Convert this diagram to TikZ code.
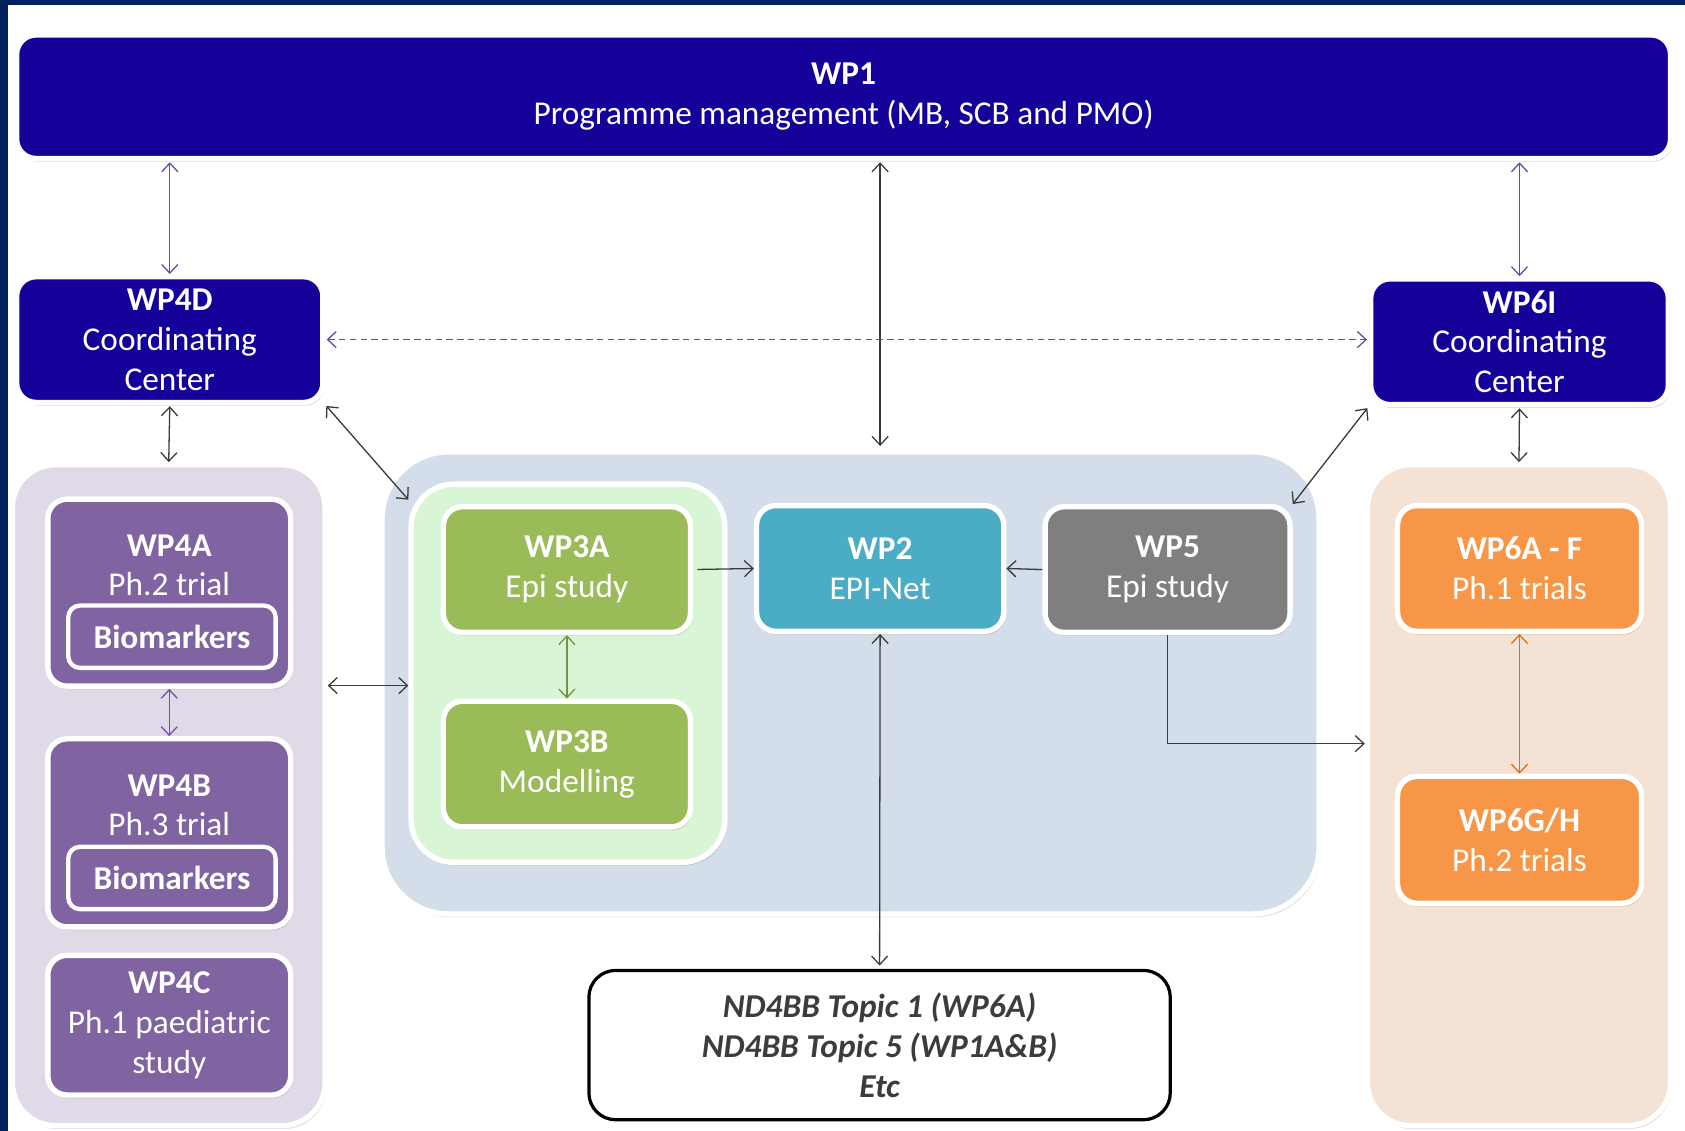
\documentclass[tikz,border=0pt]{standalone}
\usepackage{fontspec}
\setmainfont{Carlito}
\usepackage{tikz}
\usetikzlibrary{arrows.meta,shadows}

\definecolor{navy}{HTML}{002060}
\definecolor{wpblue}{HTML}{15009A}
\definecolor{wppurple}{HTML}{8064A2}
\definecolor{wpgreen}{HTML}{9BBB59}
\definecolor{wpteal}{HTML}{4BACC6}
\definecolor{wpgrey}{HTML}{7F7F7F}
\definecolor{wporange}{HTML}{F79646}
\definecolor{lavender}{HTML}{E0D9E7}
\definecolor{bluegrey}{HTML}{D4DEEA}
\definecolor{mint}{HTML}{D8F5D6}
\definecolor{peach}{HTML}{F4E3D4}
\definecolor{linkgrey}{HTML}{3A3A3A}
\definecolor{linkblue}{HTML}{5252B4}
\definecolor{linkpurple}{HTML}{7A4CB0}
\definecolor{linkgreen}{HTML}{77933C}
\definecolor{linkorange}{HTML}{E46C0A}
\definecolor{topictext}{HTML}{3C3C3C}

\begin{document}
\begin{tikzpicture}[x=1pt,y=-1pt,>={Straight Barb[length=8pt,width=15pt]}]
\tikzstyle{every node}+=[inner sep=0pt, font=\fontsize{31}{37}\selectfont]
\tikzstyle{wpbox}=[rectangle, rounded corners=18pt, draw=white, line width=5pt, align=center, text=white, drop shadow={opacity=0.3,shadow xshift=1.5pt,shadow yshift=-3pt}]
\tikzstyle{group}=[rectangle, rounded corners=40pt, draw=white, line width=5pt, drop shadow={opacity=0.3,shadow xshift=1.5pt,shadow yshift=-3pt}]
\tikzstyle{biobox}=[rectangle, rounded corners=11pt, draw=white, line width=4pt, fill=wppurple, text=white, minimum width=193pt, minimum height=58pt]
\tikzstyle{lbl}=[align=center, text=white]
\tikzstyle{link}=[line width=1.2pt, color=linkgrey]

% page with the navy edge
\fill[navy] (0,0) rectangle (1568,1052);
\fill[white] (7,5) rectangle (1568,1052);
\useasboundingbox (0,0) rectangle (1568,1052);

% groups
\node[group, fill=lavender, minimum width=291pt, minimum height=615pt] (grpL) at (157,740) {};
\node[group, fill=bluegrey, rounded corners=62pt, minimum width=872pt, minimum height=430pt] (grpC) at (791.5,635.5) {};
\node[group, fill=mint, minimum width=292pt, minimum height=352pt] (grpG) at (528.5,626.5) {};
\node[group, fill=peach, minimum width=282pt, minimum height=615pt] (grpR) at (1413.5,740) {};

% management
\node[wpbox, fill=wpblue, minimum width=1539pt, minimum height=115pt] (wp1) at (785,90) {\textbf{WP1}\\Programme management (MB, SCB and PMO)};
\node[wpbox, fill=wpblue, minimum width=285pt, minimum height=117pt] (wp4d) at (158,316) {\textbf{WP4D}\\Coordinating\\Center};
\node[wpbox, fill=wpblue, minimum width=277pt, minimum height=117pt] (wp6i) at (1414,318) {\textbf{WP6I}\\Coordinating\\Center};

% WP4 trials
\node[wpbox, fill=wppurple, minimum width=226pt, minimum height=174pt] (wp4a) at (157.5,551.5) {};
\node[lbl] (t4a) at (157.5,526) {\textbf{WP4A}\\Ph.2 trial};
\node[biobox] (bio4a) at (160,592.5) {\textbf{Biomarkers}};
\node[wpbox, fill=wppurple, minimum width=226pt, minimum height=175pt] (wp4b) at (157.5,775) {};
\node[lbl] (t4b) at (157.5,749.5) {\textbf{WP4B}\\Ph.3 trial};
\node[biobox] (bio4b) at (160,817) {\textbf{Biomarkers}};
\node[wpbox, fill=wppurple, minimum width=226pt, minimum height=130pt] (wp4c) at (157.5,954) {\textbf{WP4C}\\Ph.1 paediatric\\study};

% epi studies
\node[wpbox, fill=wpgreen, minimum width=230pt, minimum height=117pt] (wp3a) at (527.5,530) {\textbf{WP3A}\\Epi study};
\node[wpbox, fill=wpgreen, minimum width=230pt, minimum height=117pt] (wp3b) at (527.5,711) {\textbf{WP3B}\\Modelling};
\node[wpbox, fill=wpteal, minimum width=230pt, minimum height=117pt] (wp2) at (819,529) {\textbf{WP2}\\EPI-Net};
\node[wpbox, fill=wpgrey, minimum width=228pt, minimum height=117pt] (wp5) at (1086.5,530) {\textbf{WP5}\\Epi study};

% WP6 trials
\node[wpbox, fill=wporange, minimum width=227pt, minimum height=117pt] (wp6af) at (1414,529) {\textbf{WP6A - F}\\Ph.1 trials};
\node[wpbox, fill=wporange, minimum width=227pt, minimum height=118pt] (wp6gh) at (1414,781.5) {\textbf{WP6G/H}\\Ph.2 trials};

% other topics
\node[rectangle, rounded corners=25pt, draw=black, line width=3pt, fill=white, minimum width=541pt, minimum height=139pt, align=center, text=topictext, font=\fontsize{31}{37}\selectfont\bfseries\itshape] (nd4bb) at (818.5,972.5) {ND4BB Topic 1 (WP6A)\\ND4BB Topic 5 (WP1A\&B)\\Etc};

\coordinate (midL) at (0,638);
\coordinate (turn) at (0,692);

% links
\draw[link, <->, color=linkblue, shorten <=1pt] (wp4d.north |- wp1.south) -- (wp4d.north);
\draw[link, <->, color=linkblue, shorten <=1pt] (wp6i.north |- wp1.south) -- (wp6i.north);
\draw[link, <->, shorten <=1pt, shorten >=3pt] (wp2.north |- wp1.south) -- (wp2.north |- grpC.north);
\draw[link, <->, color=linkblue, dash pattern=on 6pt off 4pt, shorten <=1pt, shorten >=1pt] (wp4d.east) -- (wp4d.east -| wp6i.west);
\draw[link, <->, shorten <=1pt] (wp4d.south) -- (grpL.north);
\draw[link, <->, shorten <=1pt] (wp6i.south) -- (grpR.north);
\draw[link, <->, shorten <=1pt] (wp4d.south east) -- ([yshift=-17pt]grpG.north west);
\draw[link, <->, shorten <=1pt] (wp6i.south west) -- (wp5.north east);
\draw[link, <->] (midL -| grpL.east) -- (midL -| grpG.west);
\draw[link, ->, shorten <=4pt] (wp3a.east) -- (wp2.west);
\draw[link, ->] (wp5.west) -- (wp2.east);
\draw[link, <->, color=linkgreen] (wp3a.south) -- (wp3b.north);
\draw[link, <->, color=linkpurple] (wp4a.south) -- (wp4b.north);
\draw[link, <->, color=linkorange] (wp6af.south) -- (wp6gh.north);
\draw[link, <->, shorten >=3pt] (wp2.south) -- (nd4bb.north);
\draw[link, ->] (wp5.south) |- (grpR.west |- turn);
\end{tikzpicture}
\end{document}
